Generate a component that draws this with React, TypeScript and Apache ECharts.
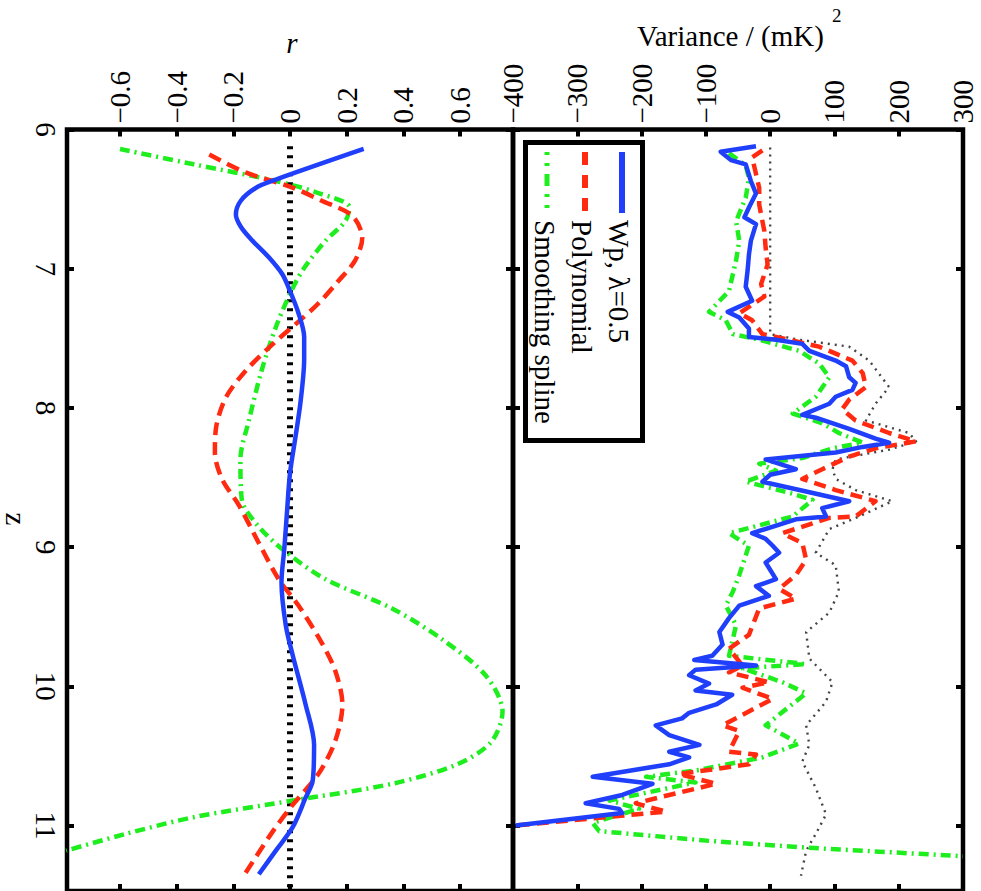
import React, { useEffect, useRef } from "react";
import * as echarts from "echarts";

const FONT = "'Liberation Serif', 'Times New Roman', serif";
const BLUE = "#1f3ffb";
const RED = "#ff2a10";
const GREEN = "#1eee1e";

// Tick labels
const rTickValues = [-0.6, -0.4, -0.2, 0, 0.2, 0.4, 0.6];
const legendNames = ["Wp, λ=0.5", "Polynomial", "Smoothing spline"];

// ---- Left panel: correlation r vs z ----
const rWpZ = [6.14, 6.36, 6.42, 6.51, 6.61, 6.7, 6.8, 6.92, 7.04, 7.16, 7.32, 7.49, 7.65, 7.96, 8.2, 8.47, 8.73, 9.01, 9.25, 9.56, 9.78, 10.13, 10.42, 10.68, 10.8, 11.01, 11.18, 11.35];
const rWpR = [0.26, -0.05, -0.121, -0.173, -0.191, -0.173, -0.132, -0.074, -0.027, 0, 0.03, 0.05, 0.05, 0.037, 0.02, 0.0, -0.01, -0.02, -0.03, -0.015, 0.01, 0.055, 0.085, 0.08, 0.055, 0.01, -0.05, -0.11];

const rPolyZ = [6.18, 6.31, 6.41, 6.51, 6.62, 6.78, 6.94, 7.09, 7.25, 7.38, 7.54, 7.73, 7.92, 8.13, 8.32, 8.51, 8.7, 8.97, 9.23, 9.42, 9.68, 9.89, 10.13, 10.39, 10.63, 10.85, 11.04, 11.35];
const rPolyR = [-0.285, -0.155, 0, 0.11, 0.22, 0.255, 0.23, 0.17, 0.1, 0.03, -0.06, -0.155, -0.225, -0.26, -0.265, -0.24, -0.18, -0.11, -0.04, 0.03, 0.11, 0.16, 0.185, 0.16, 0.1, 0.01, -0.06, -0.16];

const rSplZ = [6.14, 6.25, 6.37, 6.45, 6.56, 6.66, 6.8, 7.01, 7.18, 7.42, 7.73, 8.09, 8.37, 8.66, 8.83, 9.01, 9.23, 9.44, 9.66, 9.92, 10.18, 10.4, 10.56, 10.7, 10.82, 10.94, 11.06, 11.18];
const rSplR = [-0.6, -0.34, -0.05, 0.09, 0.21, 0.195, 0.125, 0.045, 0, -0.05, -0.1, -0.145, -0.175, -0.17, -0.12, -0.03, 0.125, 0.36, 0.535, 0.69, 0.75, 0.71, 0.59, 0.36, 0.01, -0.34, -0.58, -0.79];

const rZeroZ = [6.12, 11.47];
const rZeroR = [0, 0];

// ---- Right panel: variance vs z ----
const vWpZ = [6.12, 6.16, 6.22, 6.25, 6.37, 6.46, 6.56, 6.63, 6.68, 6.8, 6.9, 7.01, 7.13, 7.23, 7.31, 7.35, 7.43, 7.49, 7.51, 7.54, 7.59, 7.66, 7.7, 7.78, 7.82, 7.87, 7.92, 7.97, 8.05, 8.07, 8.15, 8.22, 8.25, 8.28, 8.32, 8.37, 8.44, 8.48, 8.53, 8.6, 8.67, 8.72, 8.78, 8.8, 8.9, 8.94, 8.99, 9.04, 9.11, 9.23, 9.28, 9.35, 9.42, 9.51, 9.61, 9.7, 9.78, 9.81, 9.85, 9.88, 9.92, 9.98, 10.03, 10.06, 10.13, 10.19, 10.23, 10.28, 10.35, 10.42, 10.47, 10.51, 10.56, 10.65, 10.7, 10.78, 10.84, 10.88, 10.91, 11.0];
const vWpV = [-22, -77, -61, -38, -30, -22, -33, -40, -22, -30, -33, -35, -38, -28, -66, -48, -33, -33, 9, 50, 61, 102, 118, 123, 133, 128, 102, 92, 50, 71, 123, 164, 185, 144, 102, -7, 40, 0, -12, 56, 123, 81, 87, 40, -28, -7, 4, 14, -7, 9, -22, -2, -48, -64, -79, -74, -90, -118, -22, -116, -126, -95, -116, -59, -84, -126, -137, -178, -157, -110, -157, -126, -157, -276, -183, -230, -287, -235, -230, -396];

const vPolyZ = [6.15, 6.2, 6.32, 6.42, 6.54, 6.73, 6.85, 6.97, 7.11, 7.2, 7.32, 7.37, 7.47, 7.51, 7.56, 7.61, 7.66, 7.75, 7.85, 7.94, 8.01, 8.09, 8.18, 8.24, 8.29, 8.35, 8.44, 8.51, 8.59, 8.67, 8.78, 8.79, 8.9, 8.97, 9.09, 9.2, 9.3, 9.37, 9.44, 9.63, 9.73, 9.85, 9.9, 9.97, 10.01, 10.09, 10.28, 10.32, 10.47, 10.49, 10.56, 10.63, 10.7, 10.78, 10.84, 10.9, 11.0];
const vPolyV = [-12, -28, -22, -17, -17, -9, -7, -4, -14, -9, -48, -28, -12, 30, 76, 102, 128, 144, 149, 123, 112, 133, 185, 227, 164, 123, 81, 50, 102, 164, 133, 92, 19, 50, 56, 40, 14, 40, -17, -33, -64, -43, -64, -2, -43, 4, -74, -48, -64, -22, -33, -142, -84, -157, -209, -162, -396];

const vSplZ = [6.17, 6.26, 6.35, 6.49, 6.66, 6.8, 6.94, 7.16, 7.31, 7.37, 7.47, 7.51, 7.59, 7.68, 7.78, 7.92, 8.04, 8.11, 8.18, 8.25, 8.29, 8.36, 8.4, 8.45, 8.53, 8.61, 8.66, 8.78, 8.9, 8.99, 9.2, 9.32, 9.42, 9.56, 9.78, 9.84, 9.87, 9.97, 10.05, 10.28, 10.41, 10.51, 10.6, 10.65, 10.69, 10.82, 10.88, 10.98, 11.04, 11.11, 11.16, 11.22];
const vSplV = [-64, -38, -33, -38, -53, -48, -53, -64, -95, -69, -58, -17, 45, 76, 92, 71, 35, 81, 107, 144, 97, 50, -17, 9, -38, 30, 66, 35, -64, -33, -48, -58, -69, -53, -64, 56, -43, 19, 56, -7, 45, -12, -110, -193, -116, -250, -204, -276, -266, -95, 61, 300];

const vTrueZ = [6.13, 7.47, 7.51, 7.56, 7.66, 7.85, 7.97, 8.09, 8.18, 8.24, 8.3, 8.37, 8.44, 8.51, 8.59, 8.67, 8.78, 8.87, 9.04, 9.13, 9.32, 9.47, 9.61, 9.8, 9.97, 10.11, 10.28, 10.42, 10.54, 10.73, 10.92, 11.06, 11.18, 11.36];
const vTrueV = [0, 0, 45, 123, 154, 185, 164, 149, 216, 227, 185, 102, 97, 102, 133, 190, 138, 92, 71, 102, 107, 92, 56, 61, 97, 87, 56, 61, 50, 71, 87, 71, 56, 48];

const pairs = (vals: number[], zs: number[]) => zs.map((z, i) => [vals[i], z]);
const minusFmt = (s: string) => s.replace("-", "\u2212");

export default function App() {
  const ref = useRef<HTMLDivElement>(null);
  useEffect(() => {
    if (!ref.current) return;
    const chart = echarts.init(ref.current, undefined, { renderer: "svg" });
    const labelStyle = { color: "#000", fontFamily: FONT, fontSize: 29 };
    const tick = { show: true, inside: true, length: 7, lineStyle: { color: "#000", width: 4 } };
    const noLine = { show: false, onZero: false };
    const zAxisBase = {
      type: "value" as const,
      min: 6,
      max: 11.47,
      interval: 1,
      inverse: true,
      axisLine: noLine,
      splitLine: { show: false },
      axisTick: tick,
    };
    const noLabel = { show: false };
    const line = (
      data: number[][],
      color: string,
      width: number,
      type: any,
      xi: number,
      yi: number,
      smooth: number | boolean
    ) => ({
      type: "line",
      data,
      xAxisIndex: xi,
      yAxisIndex: yi,
      symbol: "none",
      smooth,
      clip: true,
      silent: true,
      lineStyle: { color, width, type, cap: "butt", join: "round" },
    });
    const txt = (text: string, size: number, align: string, extra: any = {}) => ({
      text,
      fontFamily: FONT,
      fontSize: size,
      fill: "#000",
      align,
      verticalAlign: "middle",
      textAlign: align,
      textVerticalAlign: "middle",
      ...extra,
    });

    const option: any = {
      animation: false,
      backgroundColor: "#fff",
      textStyle: { fontFamily: FONT },
      grid: [
        { left: 67, top: 129.5, width: 446, bottom: -3, show: true, borderColor: "#000", borderWidth: 4.5, backgroundColor: "transparent" },
        { left: 513, top: 129.5, width: 450, bottom: -3, show: true, borderColor: "#000", borderWidth: 4.5, backgroundColor: "transparent" },
      ],
      xAxis: [
        {
          gridIndex: 0, type: "value", position: "top", min: -0.787, max: 0.787,
          axisLine: noLine, splitLine: { show: false },
          axisTick: { ...tick, customValues: rTickValues },
          axisLabel: {
            ...labelStyle, rotate: -90, margin: 6, customValues: rTickValues,
            formatter: (v: number) => (Math.abs(v) < 1e-9 ? "0" : minusFmt(String(+v.toFixed(1)))),
          },
        },
        {
          gridIndex: 0, type: "value", position: "bottom", min: -0.787, max: 0.787,
          axisLine: noLine, splitLine: { show: false },
          axisTick: { ...tick, customValues: rTickValues }, axisLabel: noLabel,
        },
        {
          gridIndex: 1, type: "value", position: "top", min: -400, max: 300, interval: 100,
          axisLine: noLine, splitLine: { show: false }, axisTick: tick,
          axisLabel: { ...labelStyle, rotate: -90, margin: 6, formatter: (v: number) => minusFmt(String(v)) },
        },
        {
          gridIndex: 1, type: "value", position: "bottom", min: -400, max: 300, interval: 100,
          axisLine: noLine, splitLine: { show: false }, axisTick: tick, axisLabel: noLabel,
        },
      ],
      yAxis: [
        {
          ...zAxisBase, gridIndex: 0, position: "left",
          axisLabel: {
            ...labelStyle, rotate: -90, margin: 21, align: "center", verticalAlign: "middle",
            showMaxLabel: false, formatter: (v: number) => String(v),
          },
        },
        { ...zAxisBase, gridIndex: 0, position: "right", axisLabel: noLabel },
        { ...zAxisBase, gridIndex: 1, position: "left", axisLabel: noLabel },
        { ...zAxisBase, gridIndex: 1, position: "right", axisLabel: noLabel },
      ],
      series: [
        line(pairs(rZeroR, rZeroZ), "#000", 6, [3, 6], 0, 0, false),
        line(pairs(rSplR, rSplZ), GREEN, 4.5, [10, 5, 2, 5], 0, 0, 0.3),
        line(pairs(rPolyR, rPolyZ), RED, 4.5, [13, 7], 0, 0, 0.3),
        line(pairs(rWpR, rWpZ), BLUE, 4.5, "solid", 0, 0, 0.3),
        line(pairs(vTrueV, vTrueZ), "#444", 2.4, [2, 5], 2, 2, false),
        line(pairs(vSplV, vSplZ), GREEN, 4.5, [10, 5, 2, 5], 2, 2, false),
        line(pairs(vPolyV, vPolyZ), RED, 4.5, [12, 7], 2, 2, false),
        line(pairs(vWpV, vWpZ), BLUE, 4.5, "solid", 2, 2, false),
      ],
      graphic: [
        { type: "text", z: 100, x: 292, y: 43, style: txt("r", 29, "center", { fontStyle: "italic" }) },
        { type: "text", z: 100, x: 637, y: 36, style: txt("Variance / (mK)", 29, "left") },
        { type: "text", z: 100, x: 832, y: 15, style: txt("2", 19, "left") },
        { type: "text", z: 100, x: 16, y: 519, rotation: -Math.PI / 2, style: txt("z", 29, "center") },
        { type: "rect", z: 100, shape: { x: 525.5, y: 142.5, width: 117, height: 298 }, style: { fill: "#fff", stroke: "#000", lineWidth: 5 } },
        { type: "line", z: 101, shape: { x1: 622, y1: 152, x2: 622, y2: 213 }, style: { stroke: BLUE, lineWidth: 6 } },
        { type: "line", z: 101, shape: { x1: 585, y1: 152, x2: 585, y2: 213 }, style: { stroke: RED, lineWidth: 6, lineDash: [13, 10] } },
        { type: "line", z: 101, shape: { x1: 547, y1: 152, x2: 547, y2: 213 }, style: { stroke: GREEN, lineWidth: 5, lineDash: [3, 8, 3, 8, 12, 8] } },
        { type: "text", z: 101, x: 619, y: 220, rotation: -Math.PI / 2, style: txt(legendNames[0], 29, "left") },
        { type: "text", z: 101, x: 582, y: 220, rotation: -Math.PI / 2, style: txt(legendNames[1], 29, "left") },
        { type: "text", z: 101, x: 545, y: 220, rotation: -Math.PI / 2, style: txt(legendNames[2], 29, "left") },
      ],
    };
    chart.setOption(option);
    return () => chart.dispose();
  }, []);
  return (
    <div
      ref={ref}
      style={{ position: "absolute", left: 0, top: 0, width: 981, height: 891, background: "#fff" }}
    />
  );
}
